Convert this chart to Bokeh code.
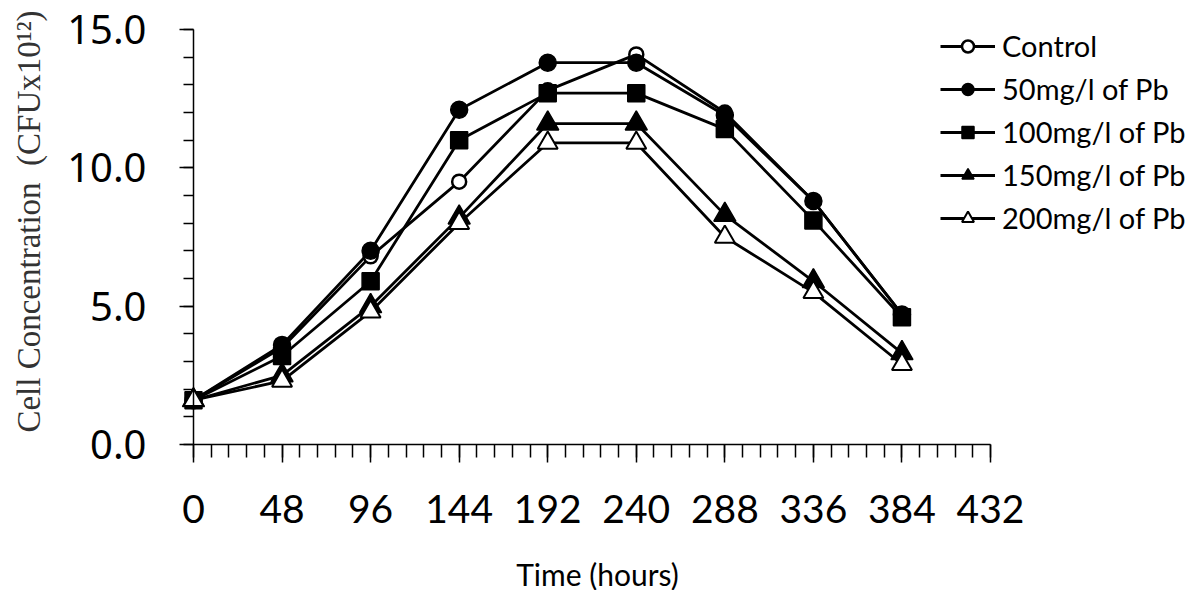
import math
from bokeh.plotting import figure
from bokeh.models import (FixedTicker, Legend, LegendItem, Range1d, Label,
                          NumeralTickFormatter)
from bokeh.embed import file_html
from bokeh.resources import INLINE

# ---- data ----
hours = [0, 48, 96, 144, 192, 240, 288, 336, 384]
control = [1.6, 3.5, 6.8, 9.5, 12.8, 14.1, 12.0, 8.8, 4.7]
pb50 = [1.6, 3.6, 7.0, 12.1, 13.8, 13.8, 11.9, 8.8, 4.7]
pb100 = [1.6, 3.2, 5.9, 11.0, 12.7, 12.7, 11.4, 8.1, 4.6]
pb150 = [1.6, 2.5, 5.0, 8.2, 11.6, 11.6, 8.3, 5.9, 3.3]
pb200 = [1.6, 2.3, 4.8, 8.0, 10.9, 10.9, 7.5, 5.5, 2.9]
series_names = ["Control", "50mg/l of Pb", "100mg/l of Pb", "150mg/l of Pb", "200mg/l of Pb"]
x_ticks = [0, 48, 96, 144, 192, 240, 288, 336, 384, 432]
y_ticks = [0, 5, 10, 15]
x_title = "Time (hours)"
y_title = "Cell Concentration\u00a0 (CFUx10\u00b9\u00b2)"

series = [control, pb50, pb100, pb150, pb200]
styles = [("circle", "white", 14, 2.5),
          ("circle", "black", 17, 1.5),
          ("square", "black", 17, 1.5),
          ("triangle", "black", 22, 1.5),
          ("triangle", "white", 20, 2.0)]

# ---- layout: the frame covers the whole canvas, axes are pinned at 0 ----
W, H = 1196, 590
X0_PX, X432_PX = 193, 990      # pixel columns of x = 0 and x = 432
Y0_PX, Y15_PX = 444, 29        # pixel rows of y = 0 and y = 15
kx = (X432_PX - X0_PX) / 432.0
ky = (Y0_PX - Y15_PX) / 15.0

p = figure(width=W, height=H, output_backend="svg", toolbar_location=None,
           x_range=Range1d(-X0_PX / kx, (W - X0_PX) / kx),
           y_range=Range1d(-(H - Y0_PX) / ky, 15 + Y15_PX / ky),
           min_border=0, min_border_left=0, min_border_right=0,
           min_border_top=0, min_border_bottom=0)
p.outline_line_color = None
p.grid.visible = False
p.background_fill_color = "white"
p.border_fill_color = "white"

# x axis
xa = p.xaxis[0]
xa.fixed_location = 0
xa.bounds = (0, 432)
xa.ticker = FixedTicker(ticks=x_ticks, minor_ticks=[round(9.6 * i, 1) for i in range(46)])
xa.axis_line_width = 1.5
xa.major_tick_line_width = 1.5
xa.minor_tick_line_width = 1.5
xa.major_tick_in = 0
xa.major_tick_out = 18
xa.minor_tick_in = 0
xa.minor_tick_out = 13
xa.major_label_text_font = "Lato"
xa.major_label_text_font_size = "39px"
xa.major_label_text_color = "black"
xa.major_label_standoff = 32

# y axis
ya = p.yaxis[0]
ya.fixed_location = 0
ya.bounds = (0, 15)
ya.ticker = FixedTicker(ticks=y_ticks, minor_ticks=list(range(16)))
ya.formatter = NumeralTickFormatter(format="0.0")
ya.axis_line_width = 1.5
ya.major_tick_line_width = 1.5
ya.minor_tick_line_width = 1.5
ya.major_tick_in = 0
ya.major_tick_out = 14
ya.minor_tick_in = 0
ya.minor_tick_out = 10
ya.major_label_text_font = "Noto Sans"
ya.major_label_text_font_size = "40px"
ya.major_label_text_color = "black"
ya.major_label_standoff = 33

items = []
for name, vals, (marker, fill, size, lw) in zip(series_names, series, styles):
    lr = p.line(hours, vals, line_color="black", line_width=2.8)
    sr = p.scatter(hours, vals, marker=marker, size=size, fill_color=fill,
                   line_color="black", line_width=lw)
    items.append(LegendItem(label=name, renderers=[lr, sr]))

legend = Legend(items=items, location=(940, 355), glyph_width=55, glyph_height=30,
                label_height=30, spacing=8, padding=0, margin=0,
                border_line_color=None, background_fill_alpha=0,
                label_text_font="Lato", label_text_font_size="29px",
                label_text_color="black", label_standoff=7)
p.add_layout(legend)

p.add_layout(Label(x=597, y=573, x_units="canvas", y_units="canvas", text=x_title,
                   text_align="center", text_baseline="middle", text_font="Lato",
                   text_font_size="30px", text_color="black"))
p.add_layout(Label(x=28, y=221, x_units="canvas", y_units="canvas", text=y_title,
                   angle=math.pi / 2, text_align="center", text_baseline="middle",
                   text_font="Liberation Serif", text_font_size="33px",
                   text_color="#333333"))

open("out.html", "w").write(file_html(p, INLINE))
